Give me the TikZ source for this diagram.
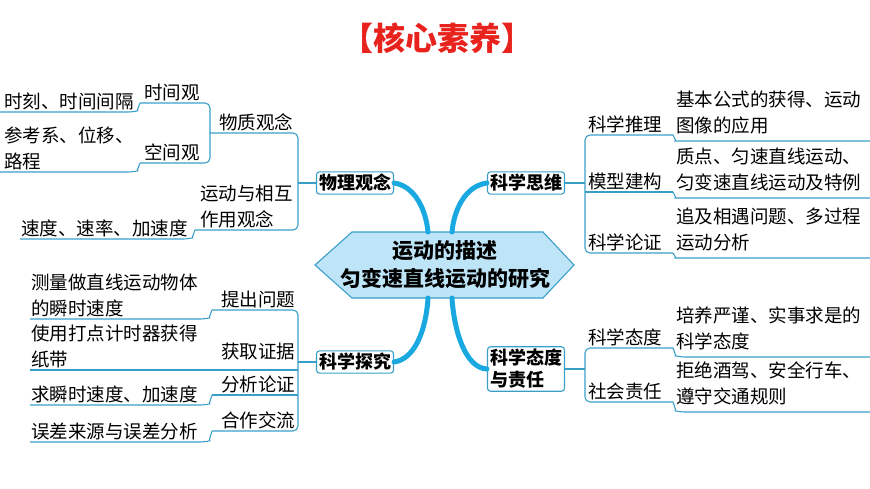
\documentclass[tikz,border=0pt]{standalone}
\usepackage{fontspec}
\setmainfont{Noto Sans CJK SC}
\begin{document}
\begin{tikzpicture}[x=1pt,y=-1pt,
  ln/.style={draw=lineblue,line width=1.1pt,rounded corners=5pt},
  thick/.style={draw=thickblue,line width=5pt,line cap=round},
  box/.style={draw=lineblue,line width=1.1pt,rounded corners=3pt,fill=white,font=\fontsize{18}{22}\selectfont\bfseries,inner sep=2.5pt,align=left},
  lab/.style={font=\fontsize{18.5}{26}\selectfont,inner sep=1pt,align=left,anchor=south west}]
\definecolor{lineblue}{HTML}{3A9FC8}
\definecolor{thickblue}{HTML}{19A8E0}
\definecolor{hexfill}{HTML}{BDE5F7}
\definecolor{titlered}{HTML}{E8231E}
\useasboundingbox (0,0) rectangle (870,489);
\node[font=\fontsize{32}{36}\selectfont\bfseries,text=titlered] (title) at (437,38) {【核心素养】};
% central
\draw[draw=lineblue,line width=1.1pt,fill=hexfill] (315,265)--(352,232)--(543,232)--(574,265)--(543,298)--(352,298)--cycle;
\node[font=\fontsize{21}{28}\selectfont\bfseries,align=center] (center) at (445,265) {运动的描述\\匀变速直线运动的研究};
\coordinate (c1) at (428,232);
\coordinate (c2) at (452,232);
\coordinate (c3) at (428,298);
\coordinate (c4) at (452,298);
% boxes
\node[box] (wl) at (355,183) {物理观念};
\node[box] (sw) at (526,183) {科学思维};
\node[box] (tj) at (355,362) {科学探究};
\node[box] (td) at (526,369) {科学态度\\与责任};
\draw[thick] (wl.east) .. controls (415,186) and (426,210) .. (c1);
\draw[thick] (sw.west) .. controls (465,186) and (454,210) .. (c2);
\draw[thick] (tj.east) .. controls (415,359) and (426,330) .. (c3);
\draw[thick] (td.west) .. controls (465,368) and (454,330) .. (c4);
% top-left
\coordinate (bL1) at (298,183);
\draw[ln] (wl.west) -- (bL1);
\draw[ln] (210,133) -- (298,133) -- (298,230) -- (195,230);
\draw[ln] (195,230) .. controls (192,238) .. (188,239) -- (20,239);
\draw[ln] (140,103) -- (210,103) -- (210,163) -- (140,163);
\draw[ln] (140,103) .. controls (137,111) .. (133,112) -- (0,112);
\draw[ln] (140,163) .. controls (137,171) .. (133,172) -- (0,172);
\node[lab] (sjg) at (143,102) {时间观};
\node[lab] (kjg) at (143,162) {空间观};
\node[lab] (wzgn) at (218,132) {物质观念};
\node[lab] (ydxh) at (199,229) {运动与相互\\作用观念};
\node[lab] (sk) at (3,111) {时刻、时间间隔};
\node[lab] (ckx) at (3,171) {参考系、位移、\\路程};
\node[lab] (sd) at (20,238) {速度、速率、加速度};
% bottom-left
\draw[ln] (tj.west) -- (298,362);
\draw[ln] (212,310) -- (298,310) -- (298,431) -- (212,431);
\draw[ln] (30,370) -- (298,370);
\draw[ln] (212,395) -- (298,395);
\draw[ln] (212,310) .. controls (209,318) .. (205,319) -- (30,319);
\draw[ln] (212,395) .. controls (209,404) .. (205,405) -- (30,405);
\draw[ln] (212,431) .. controls (209,441) .. (205,442) -- (30,442);
\node[lab] (tcwt) at (220,309) {提出问题};
\node[lab] (hqzj) at (220,361) {获取证据};
\node[lab] (fxlz) at (220,394) {分析论证};
\node[lab] (hzjl) at (220,430) {合作交流};
\node[lab] (cl) at (30,318) {测量做直线运动物体\\的瞬时速度};
\node[lab] (sy) at (30,369) {使用打点计时器获得\\纸带};
\node[lab] (qs) at (30,404) {求瞬时速度、加速度};
\node[lab] (wc) at (30,441) {误差来源与误差分析};
% top-right
\draw[ln] (sw.east) -- (585,183);
\draw[ln] (673,135) -- (585,135) -- (585,253) -- (673,253);
\draw[ln] (585,192) -- (673,192);
\draw[ln] (673,135) .. controls (676,141) .. (680,141) -- (870,141);
\draw[ln] (673,192) .. controls (676,198) .. (680,198) -- (870,198);
\draw[ln] (673,253) .. controls (676,258) .. (680,258) -- (870,258);
\node[lab] (kxtl) at (587,134) {科学推理};
\node[lab] (mxjg) at (587,191) {模型建构};
\node[lab] (kxlz) at (587,252) {科学论证};
\node[lab] (jb) at (675,135) {基本公式的获得、运动\\图像的应用};
\node[lab] (zd) at (675,192) {质点、匀速直线运动、\\匀变速直线运动及特例};
\node[lab] (zj) at (675,252) {追及相遇问题、多过程\\运动分析};
% bottom-right
\draw[ln] (td.east) -- (585,369);
\draw[ln] (673,348) -- (585,348) -- (585,402) -- (673,402);
\draw[ln] (673,348) .. controls (676,356) .. (680,357) -- (870,357);
\draw[ln] (673,402) .. controls (676,411) .. (680,412) -- (870,412);
\node[lab] (kxtd) at (587,347) {科学态度};
\node[lab] (shzr) at (587,401) {社会责任};
\node[lab] (py) at (675,351) {培养严谨、实事求是的\\科学态度};
\node[lab] (jj) at (675,406) {拒绝酒驾、安全行车、\\遵守交通规则};
\end{tikzpicture}
\end{document}
